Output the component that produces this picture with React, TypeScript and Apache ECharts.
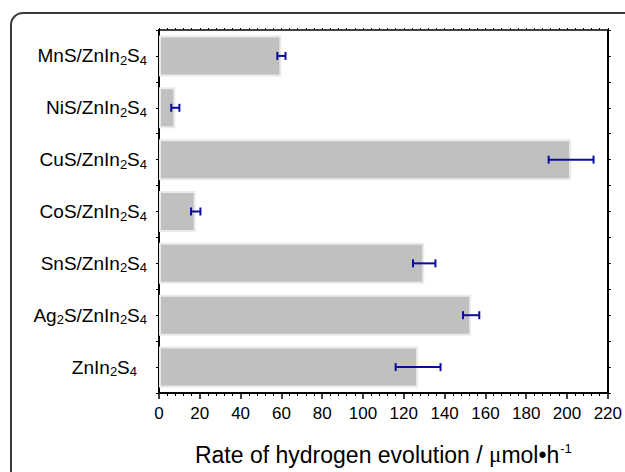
import React, { useEffect, useRef } from 'react';
import * as echarts from 'echarts';

const categories = ['MnS/ZnIn2S4', 'NiS/ZnIn2S4', 'CuS/ZnIn2S4', 'CoS/ZnIn2S4', 'SnS/ZnIn2S4', 'Ag2S/ZnIn2S4', 'ZnIn2S4'];
const rates = [60, 8, 202, 18, 130, 153, 127];
const errors = [2, 2, 11, 2.3, 5.5, 4, 11];
const xMin = 0;
const xMax = 220;
const xInterval = 20;

const FONT = 'Liberation Sans, Arial, sans-serif';

function fmtLabel(v: string) {
  const parts = v
    .split(/(\d)/)
    .filter((p) => p.length > 0)
    .map((p) => (/\d/.test(p) ? `{s|${p}}` : `{a|${p}}`));
  return parts.join('') + (v === 'ZnIn2S4' ? '{p|}' : '');
}

export default function App() {
  const ref = useRef<HTMLDivElement>(null);
  useEffect(() => {
    document.body.style.margin = '0';
    const chart = echarts.init(ref.current!, null, { renderer: 'svg' });
    const errData = rates.map((v, i) => [v - errors[i], v + errors[i], i]);
    const baseY = {
      type: 'category' as const,
      data: categories,
      inverse: true,
      axisLabel: { show: false },
      splitLine: { show: false },
    };
    const frameStyle = { fill: 'none', stroke: '#3a3a3a', lineWidth: 2 };
    chart.setOption({
      animation: false,
      backgroundColor: '#fff',
      graphic: [
        { type: 'line', shape: { x1: 11, y1: 25, x2: 11, y2: 480 }, style: frameStyle, z: -1 },
        { type: 'line', shape: { x1: 23, y1: 13, x2: 640, y2: 13 }, style: frameStyle, z: -1 },
        {
          type: 'arc',
          shape: { cx: 23, cy: 25, r: 12, startAngle: Math.PI, endAngle: Math.PI * 1.5, clockwise: true },
          style: frameStyle,
          z: -1,
        },
      ],
      grid: { left: 159, top: 30, width: 449, height: 366, containLabel: false },
      xAxis: [
        {
          type: 'value',
          position: 'bottom',
          min: xMin,
          max: xMax,
          interval: xInterval,
          axisLine: { show: true, lineStyle: { color: '#000', width: 2 } },
          axisTick: { show: true, length: 6, lineStyle: { color: '#000', width: 1.5 } },
          minorTick: { show: true, splitNumber: 5, length: 3, lineStyle: { color: '#000', width: 1 } },
          splitLine: { show: false },
          axisLabel: { fontSize: 17, color: '#000', margin: 12, fontFamily: FONT },
          name: '{a|Rate of hydrogen evolution / }{m|μ}{a|mol•h}{s|-1}',
          nameLocation: 'middle',
          nameGap: 49,
          nameTextStyle: {
            rich: {
              a: { fontSize: 23, fontFamily: FONT, color: '#000', lineHeight: 25 },
              m: { fontSize: 23, fontFamily: 'Liberation Serif, serif', color: '#000', lineHeight: 25 },
              s: { fontSize: 13, fontFamily: FONT, color: '#000', verticalAlign: 'top', lineHeight: 25, padding: [0, 0, 12, 1] },
            },
          },
        },
        {
          type: 'value',
          position: 'top',
          min: xMin,
          max: xMax,
          interval: xInterval,
          axisLine: { show: true, lineStyle: { color: '#000', width: 1.5 } },
          axisTick: { show: true, length: 2, lineStyle: { color: '#000', width: 1 } },
          minorTick: { show: true, splitNumber: 5, length: 2, lineStyle: { color: '#000', width: 1 } },
          splitLine: { show: false },
          axisLabel: { show: false },
        },
      ],
      yAxis: [
        {
          ...baseY,
          position: 'left',
          axisLine: { show: true, lineStyle: { color: '#000', width: 2 } },
          axisTick: { show: true, length: 3, lineStyle: { color: '#000', width: 1 } },
          axisLabel: {
            show: true,
            margin: 12,
            formatter: (v: string) => fmtLabel(v),
            rich: {
              a: { fontSize: 19, fontFamily: FONT, color: '#000', lineHeight: 22 },
              s: { fontSize: 13, fontFamily: FONT, color: '#000', lineHeight: 19, verticalAlign: 'bottom' },
              p: { width: 10 },
            },
          },
        },
        {
          ...baseY,
          position: 'left',
          axisLine: { show: false },
          axisTick: { show: true, alignWithLabel: true, length: 3, lineStyle: { color: '#000', width: 1 } },
        },
        {
          ...baseY,
          position: 'right',
          axisLine: { show: true, lineStyle: { color: '#000', width: 2 } },
          axisTick: { show: true, length: 3, lineStyle: { color: '#000', width: 1 } },
        },
        {
          ...baseY,
          position: 'right',
          axisLine: { show: false },
          axisTick: { show: true, alignWithLabel: true, length: 3, lineStyle: { color: '#000', width: 1 } },
        },
      ],
      series: [
        {
          type: 'bar',
          xAxisIndex: 0,
          yAxisIndex: 0,
          data: rates,
          barWidth: 41,
          itemStyle: { color: '#c0c0c0', borderColor: '#eaeaea', borderWidth: 2 },
          z: 2,
        },
        {
          type: 'custom',
          xAxisIndex: 0,
          yAxisIndex: 0,
          data: errData,
          encode: { x: [0, 1], y: 2 },
          z: 5,
          renderItem: (params: any, api: any) => {
            const idx = api.value(2);
            const lo = api.coord([api.value(0), idx]);
            const hi = api.coord([api.value(1), idx]);
            const h = 4;
            const style = { stroke: '#0c0c9c', lineWidth: 2 };
            return {
              type: 'group',
              children: [
                { type: 'line', shape: { x1: lo[0], y1: lo[1], x2: hi[0], y2: hi[1] }, style },
                { type: 'line', shape: { x1: lo[0], y1: lo[1] - h, x2: lo[0], y2: lo[1] + h }, style },
                { type: 'line', shape: { x1: hi[0], y1: hi[1] - h, x2: hi[0], y2: hi[1] + h }, style },
              ],
            };
          },
        },
      ],
    });
    return () => chart.dispose();
  }, []);
  return <div ref={ref} style={{ width: 625, height: 472 }} />;
}
